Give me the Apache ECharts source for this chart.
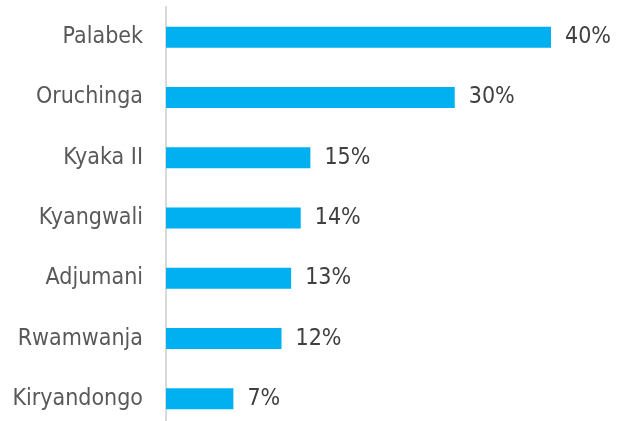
<!DOCTYPE html>
<html><head><meta charset="utf-8">
<script src="https://cdn.jsdelivr.net/npm/echarts@6/dist/echarts.min.js"></script>
<style>html,body{margin:0;padding:0;background:#fff}#c{width:617px;height:421px}</style>
</head><body><div id="c"></div>
<script>
const categories = ["Palabek","Oruchinga","Kyaka II","Kyangwali","Adjumani","Rwamwanja","Kiryandongo"];
const values = [40,30,15,14,13,12,7];
const chart = echarts.init(document.getElementById('c'));
chart.setOption({
  animation:false,
  grid:{left:166,width:385,top:7,height:422,containLabel:false,outerBoundsMode:'none'},
  xAxis:{type:'value',min:0,max:40,show:false},
  yAxis:{type:'category',inverse:true,data:categories,
    axisLine:{show:true,lineStyle:{color:'#d9d9d9',width:2}},
    axisTick:{show:false},
    axisLabel:{color:'#595959',fontFamily:'DejaVu Sans Condensed',fontSize:23,margin:23}},
  series:[{type:'bar',data:values,barWidth:21,
    itemStyle:{color:'#00B0F0'},
    label:{show:true,position:'right',distance:14,formatter:'{c}%',color:'#404040',fontFamily:'DejaVu Sans Condensed',fontSize:23}}]
});
</script></body></html>
